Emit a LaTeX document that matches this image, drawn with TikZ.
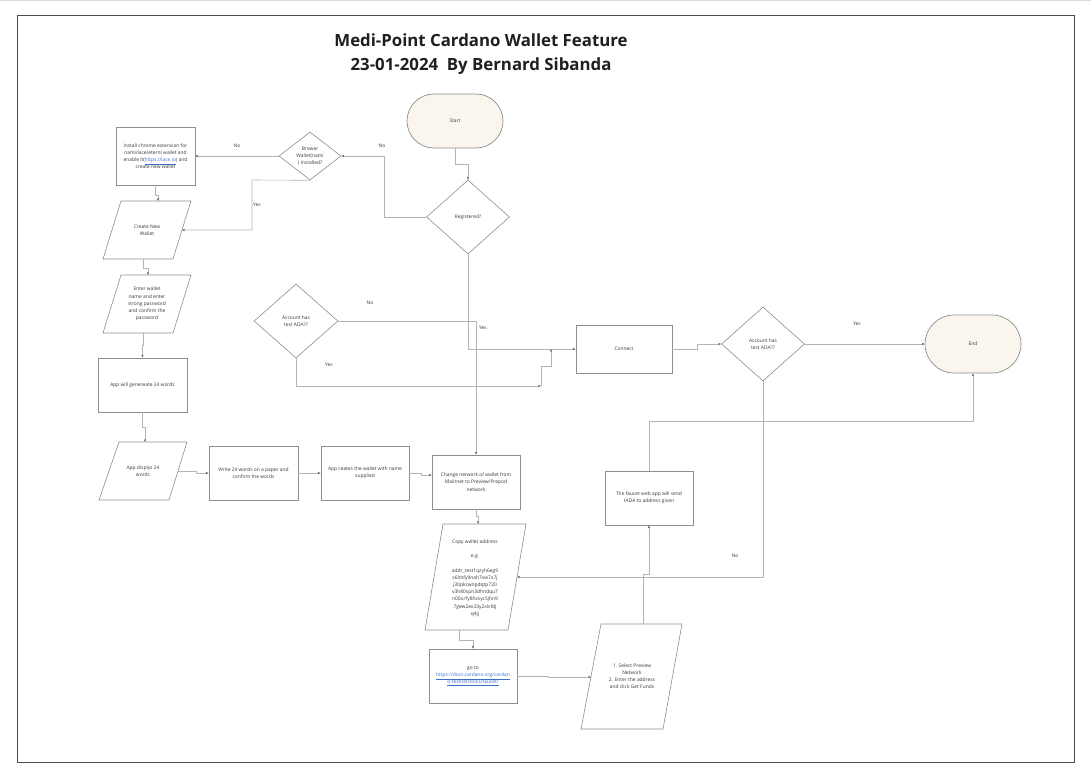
\documentclass[tikz,border=0pt]{standalone}
\usepackage{fontspec}
\setmainfont{Open Sans}
\usetikzlibrary{arrows.meta,shapes.geometric}
\definecolor{ln}{HTML}{B4B4B4}
\definecolor{bd}{HTML}{8E8E8E}
\definecolor{tx}{HTML}{3A3A3A}
\definecolor{cream}{HTML}{FAF6EE}
\definecolor{lnk}{HTML}{3B6FD0}
\newcommand{\lk}[1]{\textcolor{lnk}{\underline{#1}}}
\begin{document}
\begin{tikzpicture}[x=1pt,y=-1pt,
  txt/.style={font=\fontsize{4.9}{7.2}\selectfont, text=tx, align=center, inner sep=0pt},
  box/.style={draw=bd, line width=0.7pt, fill=white, txt},
  pg/.style={draw=bd, line width=0.6pt, fill=white},
  dia/.style={diamond, draw=bd, line width=0.6pt, fill=white, txt, inner sep=0pt},
  term/.style={draw=bd, line width=0.7pt, fill=cream, txt, rounded corners=27pt},
  conn/.style={draw=ln, line width=0.6pt, -{Stealth[length=3pt,width=2.4pt,color=black!60]}},
  lbl/.style={font=\fontsize{4.9}{6}\selectfont, text=tx, inner sep=0pt}]
\useasboundingbox (0,0) rectangle (1091,768);
\fill[white] (0,0) rectangle (1091,768);
\draw[draw=black!15, line width=1.5pt] (0,0.75) -- (1091,0.75);
\draw[draw=black!70, line width=0.7pt] (17,15) rectangle (1074,762);
% title
\node[font=\bfseries\fontsize{16.8}{24}\selectfont, text=black!88, align=center, inner sep=0pt] (title) at (481,54) {Medi-Point Cardano Wallet Feature\\23-01-2024\ \ By Bernard Sibanda};
% terminals
\node[term, minimum width=96pt, minimum height=54pt] (start) at (455,121) {Start};
\node[term, minimum width=96pt, minimum height=58pt, rounded corners=29pt] (end) at (973,344) {End};
% decisions
\node[dia, minimum width=83pt, minimum height=74pt] (reg) at (468,217) {Registered?};
\node[dia, minimum width=62pt, minimum height=48pt] (brw) at (310,156) {Brower\\Wallet(nami\\) Installed?};
\node[dia, minimum width=84pt, minimum height=74pt] (lad) at (296,321) {Account has\\test ADA??};
\node[dia, minimum width=83pt, minimum height=74pt] (rad) at (763,344) {Account has\\test ADA??};
% boxes
\node[box, minimum width=79pt, minimum height=58pt] (inst) at (155.5,156) {install chrome extension for\\nami/lace/eternl wallet and\\enable it(\lk{https://lace.io}) and\\create new wallet};
\node[box, minimum width=89pt, minimum height=54pt] (gen) at (142.5,385) {App will genereate 24 words};
\node[box, minimum width=89pt, minimum height=54pt] (wr) at (253.5,473) {Write 24 words on a paper and\\confirm the words};
\node[box, minimum width=88pt, minimum height=54pt] (acw) at (365,473) {App ceates the wallet with name\\supplied};
\node[box, minimum width=88pt, minimum height=54pt] (chg) at (476,482) {Change network of wallet from\\Mainnet to Preview/Prepod\\network};
\node[box, minimum width=96pt, minimum height=48pt] (con) at (624,349) {Connect};
\node[box, minimum width=88pt, minimum height=54pt] (fau) at (649,498) {The faucet web app will send\\tADA to address given};
\node[box, minimum width=88pt, minimum height=54pt] (go) at (473,676) {go to\\\lk{https://docs.cardano.org/cardan}\\\lk{o-testnet/tools/faucet/}};
% parallelograms
\draw[pg] (121,201) -- (191,201) -- (173,259) -- (103,259) -- cycle;
\node[txt] (cnw) at (147,230) {Create New\\Wallet};
\draw[pg] (121,275) -- (191,275) -- (173,333) -- (103,333) -- cycle;
\node[txt] (ew) at (147,304) {Enter wallet\\name and enter\\strong password\\and confirm the\\password};
\draw[pg] (119,442) -- (187,442) -- (169,500) -- (99,500) -- cycle;
\node[txt] (ad) at (143,471) {App displys 24\\words};
\draw[pg] (443,524) -- (526,524) -- (508,630) -- (425,630) -- cycle;
\node[txt] (cw) at (475,578) {Copy wallet address\\[7.3pt]e.g.\\[7.3pt]addr\_test1qzyh6eg9\\s6lmfy9nah7vw7x7j\\j30pkzwnpdqtp720\\v3h80spn3dhndqu7\\n00urfy8hzsyc5jhn9\\7gew2ex33y2xlsfdj\\q4jj};
\draw[pg] (601,624) -- (682,624) -- (663,729) -- (581,729) -- cycle;
\node[txt] (sp) at (632,676) {1. Select Preview\\Network\\2. Enter the address\\and click Get Funds};
% edge points
\coordinate (cnwT) at (158,201); \coordinate (cnwB) at (143,259); \coordinate (cnwR) at (182,230);
\coordinate (ewT) at (148,275); \coordinate (ewB) at (143,333);
\coordinate (adT) at (145,442); \coordinate (adR) at (178,471);
\coordinate (cwT) at (478,524); \coordinate (cwB) at (459,630); \coordinate (cwR) at (517,577);
\coordinate (spT) at (643,624); \coordinate (spL) at (591,677);
\coordinate (jn1) at (541,386); \coordinate (jn2) at (551,349);
\coordinate (k1) at (384,217); \coordinate (k2) at (384,156);
\coordinate (k3) at (252,180); \coordinate (k4) at (252,230);
% connectors
\draw[conn] (start.south) -- ++(0,16) -| (reg.north);
\draw[conn] (reg.west) -- (k1) -- (k2) -- (brw.east);
\draw[conn] (brw.west) -- (inst.east);
\draw[conn] (brw.south) -- (k3) -- (k4) -- (cnwR);
\draw[conn] (inst.south) -- ++(0,10) -| (cnwT);
\draw[conn] (cnwB) -- ++(0,9) -| (ewT);
\draw[conn] (ewB) -- ++(0,12) -| (gen.north);
\draw[conn] (gen.south) -- ++(0,15) -| (adT);
\draw[conn] (adR) -- ++(18,0) |- (wr.west);
\draw[conn] (wr.east) -- (acw.west);
\draw[conn] (acw.east) -- ++(12,0) |- ([yshift=7pt]chg.west);
\draw[conn] (reg.south) |- (con.west);
\draw[conn] (lad.east) -| (chg.north);
\draw[conn] (lad.south) |- (jn1);
\draw[conn] (jn1) -- ++(0,-20) -- ++(10,0) -- (jn2);
\draw[conn] (con.east) -- ++(25,0) |- (rad.west);
\draw[conn] (rad.east) -- (end.west);
\draw[conn] (rad.south) |- (cwR);
\draw[conn] (chg.south) -- ++(0,7) -| (cwT);
\draw[conn] (cwB) -- ++(0,10) -| (go.north);
\draw[conn] (go.east) -- ++(31,0) |- (spL);
\draw[conn] (spT) -- ++(0,-50) -| (fau.south);
\draw[conn] (fau.north) -- ++(0,-49) -| (end.south);
% labels
\node[lbl] (l1) at (237,146) {No};
\node[lbl] (l2) at (382,146) {No};
\node[lbl] (l3) at (257,205) {Yes};
\node[lbl] (l4) at (370,303) {No};
\node[lbl] (l5) at (483,328) {Yes};
\node[lbl] (l6) at (329,365) {Yes};
\node[lbl] (l7) at (857,324) {Yes};
\node[lbl] (l8) at (735,556) {No};
\end{tikzpicture}
\end{document}
